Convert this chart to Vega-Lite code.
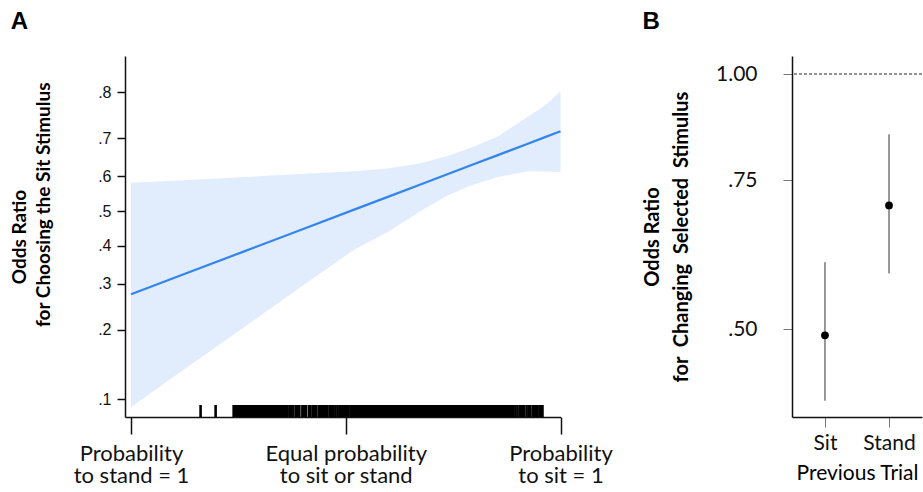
{
  "$schema": "https://vega.github.io/schema/vega-lite/v6.json",
  "padding": {"left": 10, "top": 10, "right": 0, "bottom": 0},
  "background": "white",
  "config": {
    "view": {"stroke": null},
    "font": "Lato",
    "axis": {"grid": false, "domainColor": "#111", "labelColor": "#111", "titleColor": "#000", "tickColor": "#111"}
  },
  "datasets": {
    "band": [
      {"x": 0.000, "fit": -0.972, "lo": -2.287, "hi": 0.330},
      {"x": 0.115, "fit": -0.753, "lo": -1.880, "hi": 0.355},
      {"x": 0.265, "fit": -0.468, "lo": -1.351, "hi": 0.397},
      {"x": 0.404, "fit": -0.204, "lo": -0.855, "hi": 0.435},
      {"x": 0.521, "fit": 0.019, "lo": -0.447, "hi": 0.463},
      {"x": 0.598, "fit": 0.165, "lo": -0.245, "hi": 0.496},
      {"x": 0.677, "fit": 0.316, "lo": 0.008, "hi": 0.560},
      {"x": 0.738, "fit": 0.432, "lo": 0.183, "hi": 0.645},
      {"x": 0.793, "fit": 0.536, "lo": 0.300, "hi": 0.740},
      {"x": 0.854, "fit": 0.652, "lo": 0.397, "hi": 0.870},
      {"x": 0.924, "fit": 0.785, "lo": 0.463, "hi": 1.100},
      {"x": 0.964, "fit": 0.862, "lo": 0.460, "hi": 1.230},
      {"x": 1.000, "fit": 0.930, "lo": 0.455, "hi": 1.397}
    ],
    "rug": [
      {"x": 0.162}, {"x": 0.197},
      {"x": 0.239}, {"x": 0.243}, {"x": 0.246}, {"x": 0.250}, {"x": 0.254}, {"x": 0.257}, {"x": 0.261}, {"x": 0.265}, {"x": 0.268}, {"x": 0.272}, {"x": 0.276}, {"x": 0.279}, {"x": 0.283}, {"x": 0.287}, {"x": 0.290}, {"x": 0.294}, {"x": 0.298}, {"x": 0.301}, {"x": 0.305}, {"x": 0.309}, {"x": 0.312}, {"x": 0.316}, {"x": 0.320}, {"x": 0.323}, {"x": 0.327}, {"x": 0.331}, {"x": 0.334}, {"x": 0.338}, {"x": 0.342}, {"x": 0.345}, {"x": 0.349}, {"x": 0.353}, {"x": 0.356},
      {"x": 0.360}, {"x": 0.364}, {"x": 0.369}, {"x": 0.373}, {"x": 0.378}, {"x": 0.384}, {"x": 0.388}, {"x": 0.392}, {"x": 0.399}, {"x": 0.403}, {"x": 0.407}, {"x": 0.414}, {"x": 0.418}, {"x": 0.424}, {"x": 0.428}, {"x": 0.431}, {"x": 0.437}, {"x": 0.442}, {"x": 0.447}, {"x": 0.452}, {"x": 0.456}, {"x": 0.462}, {"x": 0.466}, {"x": 0.471}, {"x": 0.476}, {"x": 0.481}, {"x": 0.486}, {"x": 0.490}, {"x": 0.494}, {"x": 0.498}, {"x": 0.502}, {"x": 0.506}, {"x": 0.511}, {"x": 0.514}, {"x": 0.519}, {"x": 0.523}, {"x": 0.527}, {"x": 0.531}, {"x": 0.535}, {"x": 0.538}, {"x": 0.542}, {"x": 0.545}, {"x": 0.549}, {"x": 0.552},
      {"x": 0.556}, {"x": 0.560}, {"x": 0.563}, {"x": 0.567}, {"x": 0.571}, {"x": 0.575}, {"x": 0.578}, {"x": 0.582}, {"x": 0.586}, {"x": 0.590}, {"x": 0.593}, {"x": 0.597}, {"x": 0.601}, {"x": 0.605}, {"x": 0.608}, {"x": 0.612}, {"x": 0.616}, {"x": 0.620}, {"x": 0.623}, {"x": 0.627}, {"x": 0.631}, {"x": 0.635}, {"x": 0.638}, {"x": 0.642}, {"x": 0.646}, {"x": 0.650}, {"x": 0.653}, {"x": 0.657}, {"x": 0.661}, {"x": 0.665}, {"x": 0.668}, {"x": 0.672}, {"x": 0.676}, {"x": 0.680}, {"x": 0.683}, {"x": 0.687}, {"x": 0.691}, {"x": 0.695}, {"x": 0.698}, {"x": 0.702}, {"x": 0.706}, {"x": 0.710}, {"x": 0.713}, {"x": 0.717}, {"x": 0.721}, {"x": 0.725}, {"x": 0.728}, {"x": 0.732}, {"x": 0.736}, {"x": 0.740}, {"x": 0.743}, {"x": 0.747}, {"x": 0.751}, {"x": 0.755}, {"x": 0.758}, {"x": 0.762}, {"x": 0.766}, {"x": 0.770}, {"x": 0.773}, {"x": 0.777}, {"x": 0.781}, {"x": 0.785}, {"x": 0.788}, {"x": 0.792}, {"x": 0.796}, {"x": 0.800}, {"x": 0.803}, {"x": 0.807}, {"x": 0.811}, {"x": 0.815}, {"x": 0.818}, {"x": 0.822}, {"x": 0.826}, {"x": 0.830}, {"x": 0.833}, {"x": 0.837}, {"x": 0.841}, {"x": 0.845}, {"x": 0.848}, {"x": 0.852}, {"x": 0.856}, {"x": 0.860}, {"x": 0.863}, {"x": 0.867}, {"x": 0.871}, {"x": 0.875}, {"x": 0.878}, {"x": 0.882}, {"x": 0.886}, {"x": 0.890},
      {"x": 0.895}, {"x": 0.900}, {"x": 0.906}, {"x": 0.910}, {"x": 0.915}, {"x": 0.921}, {"x": 0.926}, {"x": 0.930}, {"x": 0.936}, {"x": 0.940}, {"x": 0.946}, {"x": 0.951}, {"x": 0.955}, {"x": 0.958}
    ],
    "odds": [
      {"trial": "Sit", "or": 0.492, "lo": 0.412, "hi": 0.600},
      {"trial": "Stand", "or": 0.700, "lo": 0.582, "hi": 0.849}
    ]
  },
  "spacing": 29,
  "hconcat": [
    {
      "title": {"text": "A", "anchor": "start", "font": "Liberation Sans", "fontSize": 24, "fontWeight": "bold", "baseline": "alphabetic", "offset": 3, "color": "#000"},
      "width": 435.5,
      "height": 361,
      "encoding": {
        "x": {
          "field": "x", "type": "quantitative",
          "scale": {"domain": [-0.014, 1], "nice": false, "zero": false},
          "axis": {
            "values": [0, 0.5, 1],
            "labelExpr": "datum.value < 0.25 ? ['Probability', 'to stand = 1'] : (datum.value < 0.75 ? ['Equal probability', 'to sit or stand'] : ['Probability', 'to sit = 1'])",
            "title": null,
            "tickSize": 17, "tickWidth": 1.5, "domainWidth": 1.5,
            "labelFont": "Lato", "labelFontSize": 22, "labelPadding": 9, "labelLineHeight": 22,
            "labelFlush": false, "labelOverlap": false, "labelBound": false
          }
        }
      },
      "layer": [
        {
          "data": {"name": "band"},
          "mark": {"type": "area", "color": "#e1ecfc", "opacity": 1},
          "encoding": {
            "y": {
              "field": "lo", "type": "quantitative",
              "scale": {"domain": [-2.404, 1.809], "nice": false, "zero": false},
              "axis": {
                "values": [-2.1972, -1.3863, -0.8473, -0.4055, 0, 0.4055, 0.8473, 1.3863],
                "labelExpr": "replace(format(1/(1+exp(-datum.value)), '.1f'), '0.', '.')",
                "title": ["Odds Ratio", "\u200b\u00a0\u00a0\u00a0\u00a0\u00a0\u00a0\u00a0\u00a0\u00a0\u00a0\u00a0\u00a0\u00a0\u00a0for Choosing the Sit Stimulus"],
                "titleFont": "Lato", "titleFontSize": 19, "titleFontWeight": "bold", "titleLineHeight": 24, "titlePadding": 44,
                "tickSize": 8, "tickWidth": 1.5, "domainWidth": 1.5,
                "labelFont": "Liberation Sans", "labelFontSize": 16, "labelPadding": 6, "labelOverlap": false
              }
            },
            "y2": {"field": "hi"}
          }
        },
        {
          "data": {"name": "band"},
          "mark": {"type": "line", "color": "#3385ed", "strokeWidth": 2.2},
          "encoding": {"y": {"field": "fit", "type": "quantitative"}}
        },
        {
          "data": {"name": "rug"},
          "mark": {"type": "rule", "color": "#000", "strokeWidth": 2.6},
          "encoding": {
            "y": {"datum": -2.404, "type": "quantitative"},
            "y2": {"datum": -2.264}
          }
        }
      ]
    },
    {
      "title": {"text": "B", "anchor": "start", "font": "Liberation Sans", "fontSize": 24, "fontWeight": "bold", "baseline": "alphabetic", "offset": 3, "color": "#000"},
      "width": 130,
      "height": 361,
      "data": {"name": "odds"},
      "layer": [
        {
          "mark": {"type": "rule", "color": "#555", "strokeDash": [3, 2], "strokeWidth": 0.8},
          "encoding": {"y": {"datum": 1, "type": "quantitative"}}
        },
        {
          "mark": {"type": "rule", "color": "#333", "strokeWidth": 1},
          "encoding": {
            "x": {
              "field": "trial", "type": "nominal",
              "scale": {"type": "point", "padding": 0.515},
              "axis": {
                "title": "Previous Trial", "titleFont": "Lato", "titleFontSize": 21, "titleFontWeight": "normal", "titlePadding": 9,
                "labelAngle": 0, "labelFont": "Lato", "labelFontSize": 21, "labelPadding": 5,
                "tickSize": 10, "tickColor": "#777", "tickWidth": 1, "domainWidth": 1.5
              }
            },
            "y": {
              "field": "lo", "type": "quantitative",
              "scale": {"type": "log", "domain": [0.3942, 1.0501], "nice": false},
              "axis": {
                "values": [0.5, 0.75, 1],
                "labelExpr": "replace(format(datum.value, '.2f'), '0.', '.')",
                "title": ["Odds Ratio", "for\u00a0 Changing\u00a0 Selected\u00a0 Stimulus"],
                "titleFont": "Lato", "titleFontSize": 20, "titleFontWeight": "bold", "titleLineHeight": 29, "titlePadding": 24,
                "tickSize": 9, "tickColor": "#777", "tickWidth": 1, "domainWidth": 1.5,
                "labelFont": "Lato", "labelFontSize": 21, "labelPadding": 26, "labelOverlap": false
              }
            },
            "y2": {"field": "hi"}
          }
        },
        {
          "mark": {"type": "point", "filled": true, "color": "#000", "size": 60, "opacity": 1},
          "encoding": {
            "x": {"field": "trial", "type": "nominal"},
            "y": {"field": "or", "type": "quantitative"}
          }
        }
      ]
    }
  ]
}
